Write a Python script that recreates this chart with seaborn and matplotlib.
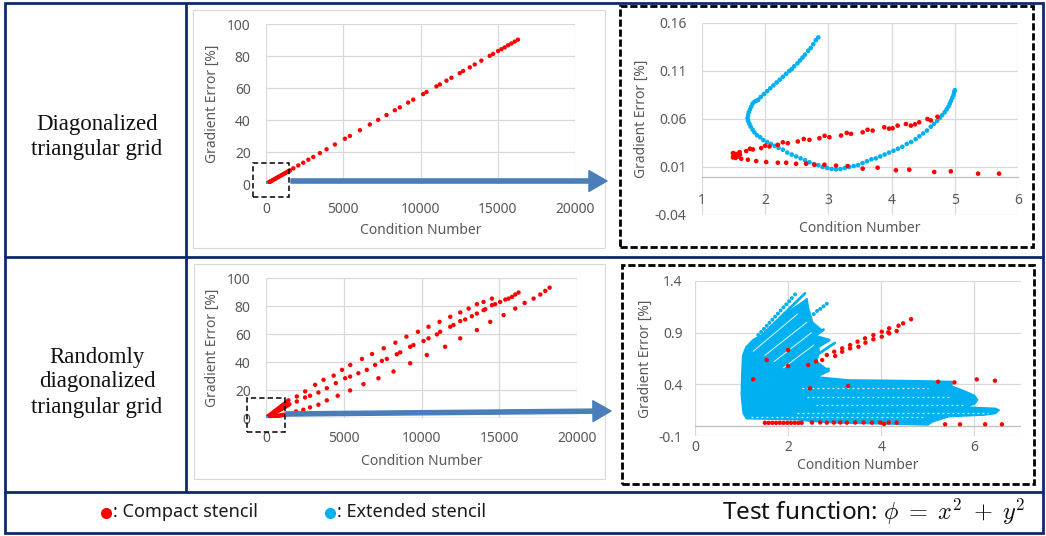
import matplotlib
matplotlib.use("Agg")
import matplotlib.pyplot as plt
import seaborn as sns
from matplotlib.patches import Rectangle, FancyArrowPatch
from matplotlib.lines import Line2D

# ---------------- data ----------------
row_labels = ["Diagonalized\ntriangular grid", "Randomly\ndiagonalized\ntriangular grid"]
x_label = "Condition Number"
y_label = "Gradient Error [%]"
legend_labels = [": Compact stencil", ": Extended stencil"]
test_function = r"Test function: $\phi\;=\;x^2\;+\;y^2$"

big_xticks = [0, 5000, 10000, 15000, 20000]
big_yticks = [0, 20, 40, 60, 80, 100]
tr_xticks = [1, 2, 3, 4, 5, 6]
tr_yticks = [-0.04, 0.01, 0.06, 0.11, 0.16]
tr_yticklabels = ["-0.04", "0.01", "0.06", "0.11", "0.16"]
br_xticks = [0, 2, 4, 6]
br_yticks = [-0.1, 0.4, 0.9, 1.4]
br_yticklabels = ["-0.1", "0.4", "0.9", "1.4"]

# top-left: diagonalized grid, compact stencil
tl_red_x = [0, 60, 120, 180, 250, 320, 390, 460, 530, 600, 680, 760, 840, 920, 1000, 1080, 1160, 1240,
            1320, 1400, 1480, 1550, 1770, 2090, 2410, 2740, 3060, 3490, 3920, 4460, 5110, 5430, 6080,
            6720, 7260, 7800, 8340, 8660, 9200, 9530, 10170, 10390, 11030, 11250, 11680, 12000, 12540,
            12760, 13190, 13510, 13940, 14480, 14700, 15020, 15240, 15450, 15670, 15880, 16100, 16310]
tl_red_y = [0, 0.33, 0.66, 0.99, 1.38, 1.76, 2.15, 2.53, 2.92, 3.30, 3.74, 4.18, 4.62, 5.06, 5.5, 5.94,
            6.38, 6.82, 7.26, 7.7, 8.14, 8.5, 9.8, 11.6, 13.3, 15.2, 16.9, 19.3, 21.7, 24.7, 28.3, 30.0,
            33.6, 37.2, 40.1, 43.1, 46.1, 47.9, 50.9, 52.7, 56.2, 57.5, 61.0, 62.2, 64.6, 66.4, 69.3,
            70.6, 72.9, 74.7, 77.1, 80.1, 81.3, 83.1, 84.3, 85.4, 86.7, 87.8, 89.0, 90.2]
tl_cyan_x = [10]
tl_cyan_y = [0.1]

# top-right: zoom of diagonalized grid
tr_cyan_x = [2.84, 2.80, 2.76, 2.72, 2.68, 2.63, 2.59, 2.55, 2.51, 2.46, 2.42, 2.38, 2.33, 2.28, 2.23,
             2.18, 2.13, 2.08, 2.03, 1.98, 1.93, 1.89, 1.86, 1.83, 1.80, 1.78, 1.76, 1.74, 1.73, 1.72,
             1.73, 1.75, 1.77, 1.80, 1.83, 1.87, 1.92, 1.97, 2.03, 2.09, 2.15, 2.21, 2.28, 2.35, 2.42,
             2.49, 2.56, 2.63, 2.70, 2.77, 2.84, 2.91, 2.98, 3.05, 3.12, 3.19, 3.26, 3.33, 3.40, 3.47,
             3.54, 3.61, 3.68, 3.75, 3.82, 3.89, 3.96, 4.03, 4.10, 4.17, 4.24, 4.31, 4.38, 4.44, 4.50,
             4.56, 4.62, 4.67, 4.72, 4.76, 4.80, 4.84, 4.87, 4.90, 4.92, 4.94, 4.96, 4.98, 4.99, 5.00]
tr_cyan_y = [0.145, 0.142, 0.138, 0.134, 0.131, 0.127, 0.124, 0.121, 0.118, 0.115, 0.112, 0.110, 0.107,
             0.104, 0.101, 0.098, 0.095, 0.092, 0.089, 0.086, 0.083, 0.080, 0.079, 0.078, 0.076, 0.073,
             0.070, 0.067, 0.064, 0.061, 0.058, 0.055, 0.052, 0.049, 0.046, 0.043, 0.041, 0.038, 0.036,
             0.034, 0.032, 0.030, 0.028, 0.025, 0.023, 0.021, 0.019, 0.017, 0.015, 0.013, 0.012, 0.010,
             0.009, 0.008, 0.0075, 0.0078, 0.009, 0.010, 0.011, 0.012, 0.014, 0.016, 0.018, 0.019, 0.021,
             0.023, 0.025, 0.027, 0.029, 0.031, 0.034, 0.036, 0.039, 0.042, 0.045, 0.048, 0.052, 0.055,
             0.058, 0.061, 0.064, 0.067, 0.070, 0.073, 0.076, 0.079, 0.082, 0.085, 0.088, 0.090]
tr_red_x = [1.49, 1.50, 1.52, 1.55, 1.49, 1.57, 1.60, 1.53,
            1.516, 1.595, 1.70, 1.805, 1.937, 2.068, 2.20, 2.358, 2.516, 2.70, 2.858, 3.016, 3.20,
            3.358, 3.542, 3.70, 3.884, 4.016, 4.095, 4.226, 4.305, 4.437, 4.568, 4.726,
            1.76, 2.00, 2.28, 2.61, 2.94, 3.29, 3.62, 3.96, 4.37, 4.62,
            1.542, 1.621, 1.726, 1.858, 2.016, 2.20, 2.332, 2.489, 2.647, 2.779, 2.937, 3.121, 3.305,
            3.542, 3.779, 4.068, 4.279, 4.674, 4.937, 5.368, 5.70]
tr_red_y = [0.0245, 0.022, 0.023, 0.0235, 0.020, 0.021, 0.023, 0.0195,
            0.0238, 0.0255, 0.0266, 0.0283, 0.0297, 0.0314, 0.0331, 0.0348, 0.0366, 0.0383, 0.040,
            0.041, 0.0428, 0.0445, 0.0462, 0.0479, 0.0514, 0.0503, 0.0531, 0.0548, 0.0531, 0.0566,
            0.060, 0.0624,
            0.0290, 0.0322, 0.0357, 0.0392, 0.0425, 0.0455, 0.0488, 0.0500, 0.0545, 0.0585,
            0.0203, 0.0186, 0.0176, 0.0162, 0.0152, 0.0145, 0.0145, 0.0134, 0.0134, 0.0124, 0.0124,
            0.0114, 0.0110, 0.0083, 0.0093, 0.0066, 0.0072, 0.0048, 0.0055, 0.0031, 0.0031]

# bottom-left: randomly diagonalized grid, compact stencil
bl_red_x = [100, 200, 300, 400, 500, 600, 700, 800, 900, 1000, 1100, 1200, 1300,
            100, 200, 300, 400, 500, 600, 700, 800, 900, 1000, 1100, 1200, 1300, 1400, 1500,
            100, 200, 300, 400, 500, 600, 700, 800, 900, 1000, 1100, 1200, 1300,
            1440, 1980, 2520, 3160, 3700, 4350, 4890, 5420, 6170, 6820, 7570, 8320, 9030, 9770, 10450,
            11160, 11850, 12490, 13030, 13560, 13990, 14530,
            1980, 2510, 2830, 3370, 3910, 4490, 5090, 5410, 5940, 6480, 7020, 7450, 7770, 8410, 8630,
            9270, 9480, 10130, 10450, 10990, 11200, 11850, 12060, 12490, 12810, 13240, 13560, 13990,
            14100, 14530, 14740, 15060, 15390, 15600, 15820, 16030, 16240,
            1930, 2400, 2830, 3370, 3910, 4610, 5410, 6270, 7230, 8200, 9270, 10340, 11520, 12490,
            13560, 14420, 15280, 16030, 16630, 17210, 17640, 17960, 18240]
bl_red_y = [0.9, 1.8, 2.6, 3.5, 4.3, 5.2, 6.0, 6.9, 7.7, 8.6, 9.4, 10.3, 11.1,
            0.6, 1.3, 1.9, 2.6, 3.2, 3.9, 4.5, 5.2, 5.8, 6.5, 7.1, 7.8, 8.4, 9.1, 9.8,
            0.2, 0.4, 0.6, 0.8, 1.0, 1.2, 1.4, 1.6, 1.8, 2.0, 2.2, 2.4, 2.6,
            12.6, 15.4, 19.0, 23.7, 27.3, 30.3, 34.4, 37.9, 42.2, 45.7, 49.8, 53.8, 58.1, 61.6, 65.2,
            68.7, 72.3, 75.4, 78.2, 81.3, 82.9, 85.3,
            11.8, 14.7, 15.9, 18.2, 21.3, 24.9, 28.4, 29.6, 32.0, 34.4, 37.9, 40.8, 42.2, 45.5, 46.9,
            50.9, 52.1, 55.0, 56.9, 59.7, 61.6, 65.2, 66.4, 69.2, 70.4, 72.7, 74.6, 77.0, 77.7, 80.6,
            81.3, 82.9, 84.6, 85.3, 86.5, 88.2, 89.6,
            4.7, 5.9, 7.6, 9.5, 12.6, 15.9, 19.7, 24.2, 28.4, 33.2, 39.1, 45.0, 50.9, 56.9, 62.8,
            68.7, 73.5, 78.2, 82.2, 85.3, 88.2, 90.8, 93.1]
bl_cyan_x = [10]
bl_cyan_y = [0.1]

# bottom-right: zoom of randomly diagonalized grid (dense cloud outline + streaks)
br_cloud_x = [1.11, 1.04, 1.00, 1.01, 1.03, 1.10, 1.25, 1.45, 2.00, 2.40, 2.43, 2.52, 2.73, 2.58, 2.90,
              2.65, 2.66, 2.61, 2.87, 2.60, 3.30, 4.30, 5.00, 5.51, 5.51, 5.80, 6.00, 6.06, 6.00, 5.75,
              6.20, 6.45, 6.52, 6.45, 6.20, 5.45, 5.10, 5.00, 4.00, 3.00, 2.50, 2.20, 1.11]
br_cloud_y = [0.07, 0.12, 0.30, 0.50, 0.68, 0.76, 0.83, 0.88, 1.10, 1.22, 1.14, 1.00, 0.92, 0.87, 0.83,
              0.76, 0.72, 0.62, 0.53, 0.47, 0.44, 0.435, 0.43, 0.425, 0.38, 0.33, 0.29, 0.25, 0.21, 0.18,
              0.17, 0.165, 0.15, 0.12, 0.105, 0.09, 0.04, 0.01, 0.02, 0.03, 0.045, 0.06, 0.07]
br_edge_dots_x = [1.36, 1.42, 1.48, 1.54, 1.60, 1.66, 1.72, 1.78, 1.84, 1.90, 1.96, 2.02, 2.08, 2.15,
                  2.55, 2.62, 2.69, 2.76, 2.83]
br_edge_dots_y = [0.877, 0.907, 0.936, 0.966, 0.996, 1.026, 1.055, 1.085, 1.115, 1.145, 1.174, 1.204,
                  1.234, 1.27, 1.08, 1.11, 1.13, 1.155, 1.18]
br_streak_x0 = [1.50, 1.70, 2.20, 2.40, 2.30]
br_streak_y0 = [0.90, 0.95, 0.75, 0.62, 0.50]
br_streak_x1 = [2.36, 2.40, 2.76, 3.00, 2.87]
br_streak_y1 = [1.28, 1.22, 0.93, 0.80, 0.55]
br_gap_x0 = [1.25, 1.50, 1.70, 1.90]
br_gap_y0 = [0.72, 0.68, 0.62, 0.56]
br_gap_x1 = [2.20, 2.40, 2.50, 2.55]
br_gap_y1 = [1.08, 1.00, 0.90, 0.78]
br_hgap_x0 = [2.30, 2.40, 2.60, 2.20, 1.20]
br_hgap_x1 = [5.00, 5.50, 5.80, 6.30, 4.90]
br_hgap_y = [0.36, 0.28, 0.20, 0.12, 0.08]
br_red_x = [2.73, 2.83, 2.99, 3.01, 3.16, 3.16, 3.33, 3.33, 3.49, 3.51, 3.65, 3.66, 3.83, 3.83, 4.01,
            4.01, 4.17, 4.17, 4.15, 4.33, 4.37, 4.47, 4.64, 2.60,
            5.22, 5.57, 6.05, 6.44, 5.37, 5.69, 6.23, 6.59, 4.06,
            1.50, 1.58, 1.66, 1.74, 1.82, 1.90, 1.98, 2.06, 2.14, 2.22, 2.29,
            2.51, 2.69, 2.83, 2.98, 3.12, 3.26, 3.44, 3.62, 3.80, 3.98, 4.16, 4.33,
            2.00, 1.54, 1.25, 2.43, 2.00, 2.47, 3.29]
br_red_y = [0.635, 0.684, 0.716, 0.674, 0.748, 0.716, 0.780, 0.748, 0.813, 0.764, 0.845, 0.803, 0.877,
            0.836, 0.909, 0.861, 0.942, 0.893, 0.903, 0.916, 0.967, 0.990, 1.03, 0.62,
            0.425, 0.419, 0.448, 0.435, 0.013, 0.013, 0.013, 0.013, 0.016,
            0.028, 0.027, 0.028, 0.027, 0.028, 0.027, 0.028, 0.027, 0.028, 0.027, 0.028,
            0.030, 0.031, 0.029, 0.030, 0.031, 0.029, 0.030, 0.031, 0.029, 0.030, 0.031, 0.029,
            0.732, 0.635, 0.448, 0.587, 0.577, 0.361, 0.384]

# ---------------- style ----------------
sns.set_style("white")
plt.rcParams['font.family'] = ['Noto Sans', 'DejaVu Sans']
plt.rcParams['mathtext.fontset'] = 'cm'

W, H = 1046, 536
fig = plt.figure(figsize=(W / 100, H / 100), dpi=100)
RED = '#ff0000'
CYAN = '#00b0f0'
TXT = '#595959'
GRID = '#d9d9d9'
NAVY = '#0d2a6e'
ARROW = '#4a7ebb'


def fx(px):
    return px / W


def fy(py):
    return 1 - py / H


def rect_axes(px0, py0, px1, py1):
    return fig.add_axes([px0 / W, 1 - py1 / H, (px1 - px0) / W, (py1 - py0) / H])


def style_axes(ax, xlim, xticks, ylim, yticks, ylab_x, xlab_y, xpad, ypad):
    ax.set_xlim(*xlim)
    ax.set_ylim(*ylim)
    ax.set_xticks(xticks)
    ax.set_yticks(yticks)
    ax.grid(True, color=GRID, lw=0.9)
    ax.set_axisbelow(True)
    for s in ax.spines.values():
        s.set_visible(False)
    ax.tick_params(length=0, labelsize=10, labelcolor=TXT)
    ax.tick_params(axis='x', pad=xpad)
    ax.tick_params(axis='y', pad=ypad)
    ax.set_xlabel(x_label, fontsize=10, color=TXT)
    ax.set_ylabel(y_label, fontsize=10, color=TXT)
    ax.xaxis.set_label_coords(0.5, xlab_y)
    ax.xaxis.label.set_va('center')
    ax.yaxis.set_label_coords(ylab_x, 0.5)
    ax.yaxis.label.set_va('center')
    ax.set_facecolor('none')


def dots(ax, x, y, color, s=9):
    sns.scatterplot(x=x, y=y, color=color, s=s, linewidth=0, edgecolor='none', ax=ax, zorder=3,
                    legend=False)


# top-left
ax1 = rect_axes(266, 24, 575, 184)
dots(ax1, tl_red_x, tl_red_y, RED, 10)
dots(ax1, tl_cyan_x, tl_cyan_y, CYAN, 10)
style_axes(ax1, (0, 20000), big_xticks, (0, 100), big_yticks, -0.172, -0.29, 13, 11)
ax1.axhline(0, color='#bfbfbf', lw=0.9, zorder=1)

# top-right
ax2 = rect_axes(702, 23, 1018, 215)
dots(ax2, tr_cyan_x, tr_cyan_y, CYAN, 11)
dots(ax2, tr_red_x, tr_red_y, RED, 11)
style_axes(ax2, (1, 6), tr_xticks, (-0.04, 0.16), tr_yticks, -0.191, -0.07, 12, 11)
ax2.set_yticklabels(tr_yticklabels)
ax2.spines['bottom'].set_visible(True)
ax2.spines['bottom'].set_position(('data', 0))
ax2.spines['bottom'].set_color('#bfbfbf')
ax2.spines['bottom'].set_linewidth(0.9)

# bottom-left
ax3 = rect_axes(266, 278, 577, 418)
dots(ax3, bl_red_x, bl_red_y, RED, 10)
dots(ax3, bl_cyan_x, bl_cyan_y, CYAN, 10)
style_axes(ax3, (0, 20000), big_xticks, (0, 100), big_yticks, -0.172, -0.31, 9, 11)
ax3.axhline(0, color='#bfbfbf', lw=0.9, zorder=1)

# bottom-right
ax4 = rect_axes(695, 281, 1021, 436)
ax4.fill(br_cloud_x, br_cloud_y, color=CYAN, lw=1.5, zorder=2)
for a, b, c, d in zip(br_streak_x0, br_streak_y0, br_streak_x1, br_streak_y1):
    ax4.plot([a, c], [b, d], color=CYAN, lw=2.0, solid_capstyle='round', zorder=2)
dots(ax4, br_edge_dots_x, br_edge_dots_y, CYAN, 8)
for a, b, c, d in zip(br_gap_x0, br_gap_y0, br_gap_x1, br_gap_y1):
    ax4.plot([a, c], [b, d], color='white', lw=0.7, alpha=0.9, zorder=2.5)
for a, c, b in zip(br_hgap_x0, br_hgap_x1, br_hgap_y):
    ax4.plot([a, c], [b, b], color='white', lw=0.9, ls=(0, (1.5, 2.5)), alpha=0.9, zorder=2.5)
dots(ax4, br_red_x, br_red_y, RED, 10)
style_axes(ax4, (0, 7), br_xticks, (-0.1, 1.4), br_yticks, -0.153, -0.19, 3, 9)
ax4.set_yticklabels(br_yticklabels)
ax4.axhline(0, color='#bfbfbf', lw=0.9, zorder=1)


# ---------------- frames & decorations ----------------
def frect(px0, py0, px1, py1, **kw):
    r = Rectangle((fx(px0), fy(py1)), (px1 - px0) / W, (py1 - py0) / H, transform=fig.transFigure,
                  fill=False, **kw)
    fig.add_artist(r)


def fline(xs, ys, **kw):
    fig.add_artist(Line2D([fx(v) for v in xs], [fy(v) for v in ys], transform=fig.transFigure, **kw))


# light gray chart borders
frect(193, 10, 605, 248, ec='#d9d9d9', lw=0.8)
frect(194, 264, 605, 479, ec='#d9d9d9', lw=0.8)

# navy table
frect(5, 3, 1043, 533, ec=NAVY, lw=2.0)
fline([186, 186], [3, 492], color=NAVY, lw=2.0)
fline([5, 1043], [257, 257], color=NAVY, lw=2.0)
fline([5, 1043], [492, 492], color=NAVY, lw=2.0)

# dashed boxes
frect(620, 6, 1033, 247, ec='black', lw=2.0, ls=(0, (2.6, 1.0)))
frect(622, 265, 1034, 484, ec='black', lw=2.0, ls=(0, (2.6, 1.0)))
frect(253, 163, 289, 197, ec='black', lw=1.1, ls=(0, (3.5, 2.0)))
frect(247, 398, 285, 432, ec='black', lw=1.1, ls=(0, (3.5, 2.0)))

# arrows
for (xa, ya, xb, yb) in [(291, 181, 607, 181), (286, 414, 611, 411)]:
    fig.add_artist(FancyArrowPatch((fx(xa), fy(ya)), (fx(xb), fy(yb)), transform=fig.transFigure,
                                   arrowstyle='simple,head_length=13,head_width=15,tail_width=3',
                                   mutation_scale=1, color=ARROW, shrinkA=0, shrinkB=0))

# row labels
fig.text(fx(97), fy(137), row_labels[0], ha='center', va='center', fontsize=16.5,
         family=['Liberation Serif'], linespacing=1.25, color='#111111')
fig.text(fx(97), fy(382), row_labels[1], ha='center', va='center', fontsize=16.5,
         family=['Liberation Serif'], linespacing=1.25, color='#111111')

# legend row
fig.add_artist(Line2D([fx(106)], [fy(513)], marker='o', ms=7, color=RED, lw=0, transform=fig.transFigure))
fig.text(fx(113), fy(512), legend_labels[0], ha='left', va='center', fontsize=13, color='#1a1a1a')
fig.add_artist(Line2D([fx(330)], [fy(513)], marker='o', ms=7, color=CYAN, lw=0, transform=fig.transFigure))
fig.text(fx(337), fy(512), legend_labels[1], ha='left', va='center', fontsize=13, color='#1a1a1a')
fig.text(fx(1025), fy(512), test_function, ha='right', va='center', fontsize=17.5, color='#111111')

fig.savefig("out.png", dpi=100)
